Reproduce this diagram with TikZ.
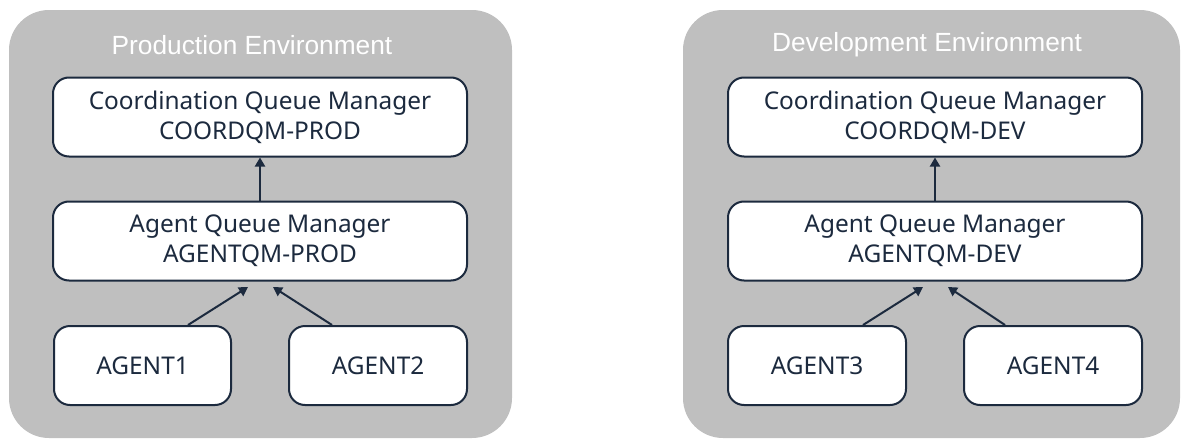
\documentclass[tikz,border=0pt]{standalone}
\usepackage{fontspec}
\setmainfont{Noto Sans}
\newfontfamily\titlefont{Liberation Sans}
\usetikzlibrary{arrows.meta,calc}
\definecolor{navy}{HTML}{1C2A3E}
\definecolor{envgray}{HTML}{BFBFBF}
\tikzset{
  envbox/.style={fill=envgray, draw=none, rounded corners=40pt},
  qmbox/.style={draw=navy, line width=2pt, fill=white, rounded corners=16pt,
    text=navy, align=center, inner sep=0pt,
    font=\fontsize{24.4}{30}\selectfont, minimum height=79pt},
  envtitle/.style={text=white, font=\titlefont\fontsize{26.3}{30}\selectfont, inner sep=0pt},
  flow/.style={draw=navy, line width=2pt, -{Triangle[length=9pt,width=10pt]}},
}
\begin{document}
\begin{tikzpicture}[x=1pt,y=-1pt]
\useasboundingbox (0,0) rectangle (1181,439);
% environments
\path[envbox] (9,10) rectangle (512,438);
\path[envbox] (683,10) rectangle (1180,438);
\node[envtitle] (t1) at (252,45) {Production Environment};
\node[envtitle] (t2) at (927,45) {Development Environment};
% production
\node[qmbox, minimum width=414pt] (cp) at (260,117) {Coordination Queue Manager\\COORDQM-PROD};
\node[qmbox, minimum width=414pt] (ap) at (260,241) {Agent Queue Manager\\AGENTQM-PROD};
\node[qmbox, minimum width=177pt] (a1) at (142.5,365.5) {AGENT1};
\node[qmbox, minimum width=178pt] (a2) at (378,365.5) {AGENT2};
\draw[flow] (ap.north) -- (cp.south);
\draw[flow] ([xshift=45.5pt]a1.north) -- ([xshift=-12pt,yshift=-5.5pt]ap.south);
\draw[flow] ([xshift=-46pt]a2.north) -- ([xshift=13pt,yshift=-5.5pt]ap.south);
% development
\node[qmbox, minimum width=414pt] (cd) at (935,117) {Coordination Queue Manager\\COORDQM-DEV};
\node[qmbox, minimum width=414pt] (ad) at (935,241) {Agent Queue Manager\\AGENTQM-DEV};
\node[qmbox, minimum width=178pt] (a3) at (817,365.5) {AGENT3};
\node[qmbox, minimum width=178pt] (a4) at (1053,365.5) {AGENT4};
\draw[flow] (ad.north) -- (cd.south);
\draw[flow] ([xshift=46pt]a3.north) -- ([xshift=-12pt,yshift=-5.5pt]ad.south);
\draw[flow] ([xshift=-48pt]a4.north) -- ([xshift=13pt,yshift=-5.5pt]ad.south);
\end{tikzpicture}
\end{document}
